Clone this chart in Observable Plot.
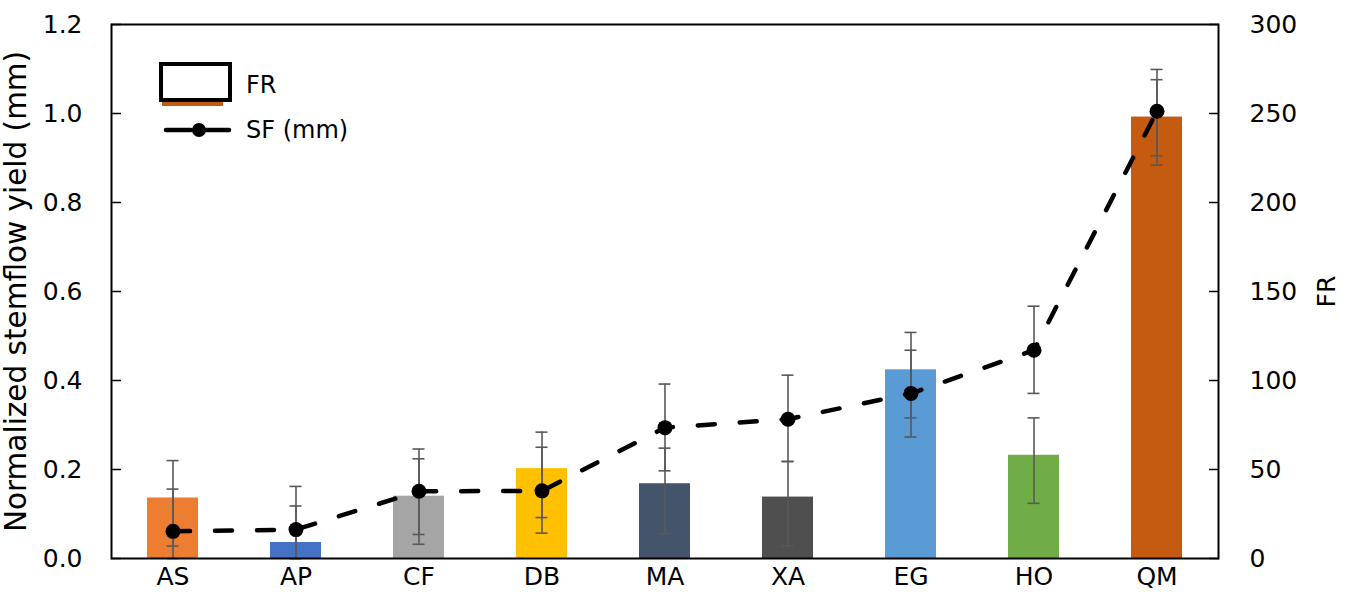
<!DOCTYPE html>
<html>
<head>
<meta charset="utf-8">
<script src="https://cdn.jsdelivr.net/npm/d3@7"></script>
<script src="https://cdn.jsdelivr.net/npm/@observablehq/plot@0.6"></script>
<style>
  body { margin: 0; background: #fff; }
  #wrap { position: relative; width: 1350px; height: 604px; font-family: "DejaVu Sans", sans-serif; }
  #legend { position: absolute; left: 159px; top: 62px; font-size: 24px; color: #000; }
  .item { display: flex; align-items: center; height: 45px; }
  .item span { margin-left: 13px; }
</style>
</head>
<body>
<div id="wrap">
  <div id="chart"></div>
  <div id="legend">
    <div class="item">
      <svg width="74" height="46"><rect x="2" y="2" width="69" height="36" fill="#fff" stroke="#000" stroke-width="4"/><rect x="3" y="40" width="61" height="4" fill="#C55A11"/></svg>
      <span>FR</span>
    </div>
    <div class="item">
      <svg width="74" height="20"><line x1="7" y1="10" x2="32" y2="10" stroke="#000" stroke-width="4.5" stroke-linecap="round"/><line x1="47" y1="10" x2="70" y2="10" stroke="#000" stroke-width="4.5" stroke-linecap="round"/><circle cx="40" cy="10" r="7" fill="#000"/></svg>
      <span>SF (mm)</span>
    </div>
  </div>
</div>
<script>
const categories = ["AS","AP","CF","DB","MA","XA","EG","HO","QM"];
const barColors = ["#ED7D31","#4472C4","#A5A5A5","#FFC000","#44546A","#4F4F4F","#5B9BD5","#70AD47","#C55A11"];
// FR (bars, right axis)
const fr     = [34, 9, 35, 50.5, 42, 34.5, 106, 58, 248];
const frLow  = [7, 0, 8, 23, 14, 7, 79, 31, 221];
const frHigh = [55, 40.5, 56, 71, 62, 54.5, 127, 79, 269];
// SF (line, left axis, mm)
const sf     = [0.061, 0.065, 0.151, 0.152, 0.294, 0.313, 0.371, 0.468, 1.005];
const sfLow  = [0, 0, 0.054, 0.057, 0.197, 0.218, 0.273, 0.371, 0.905];
const sfHigh = [0.156, 0.118, 0.246, 0.250, 0.392, 0.412, 0.468, 0.567, 1.099];
const leftTicks = [0, 0.2, 0.4, 0.6, 0.8, 1.0, 1.2];
const rightTicks = [0, 50, 100, 150, 200, 250, 300];
const frPerMm = 250; // 300 FR aligns with 1.2 mm

const rows = categories.map((c, i) => ({
  cat: c,
  fr: fr[i] / frPerMm, frLow: frLow[i] / frPerMm, frHigh: frHigh[i] / frPerMm,
  sf: sf[i], sfLow: sfLow[i], sfHigh: sfHigh[i]
}));

const errCol = "#595959";
const capInset = 19.5;
const font = "DejaVu Sans, sans-serif";

const chart = Plot.plot({
  width: 1350,
  height: 604,
  marginLeft: 111,
  marginRight: 132,
  marginTop: 24,
  marginBottom: 46,
  style: { fontFamily: font, fontSize: "25px", color: "#000", background: "#fff" },
  x: { domain: categories, paddingInner: 0.585, paddingOuter: 0.2925, label: null },
  y: { domain: [0, 1.2], label: null },
  color: { domain: categories, range: barColors },
  marks: [
    Plot.barY(rows, { x: "cat", y: "fr", fill: "cat" }),
    // error bars FR
    Plot.ruleX(rows, { x: "cat", y1: "frLow", y2: "frHigh", stroke: errCol, strokeWidth: 1.6 }),
    Plot.tickY(rows, { x: "cat", y: "frLow", stroke: errCol, strokeWidth: 1.6, insetLeft: capInset, insetRight: capInset }),
    Plot.tickY(rows, { x: "cat", y: "frHigh", stroke: errCol, strokeWidth: 1.6, insetLeft: capInset, insetRight: capInset }),
    // error bars SF
    Plot.ruleX(rows, { x: "cat", y1: "sfLow", y2: "sfHigh", stroke: errCol, strokeWidth: 1.6 }),
    Plot.tickY(rows, { x: "cat", y: "sfLow", stroke: errCol, strokeWidth: 1.6, insetLeft: capInset, insetRight: capInset }),
    Plot.tickY(rows, { x: "cat", y: "sfHigh", stroke: errCol, strokeWidth: 1.6, insetLeft: capInset, insetRight: capInset }),
    // SF line
    Plot.line(rows, { x: "cat", y: "sf", stroke: "#000", strokeWidth: 4.5, strokeDasharray: "17,25", strokeLinecap: "round" }),
    Plot.dot(rows, { x: "cat", y: "sf", r: 7.5, fill: "#000" }),
    // axes
    Plot.axisX({ tickSize: 0, tickPadding: 9, label: null, fontSize: 25 }),
    Plot.axisY({ anchor: "left", ticks: leftTicks, tickSize: 0, tickPadding: 29, tickFormat: d3.format(".1f"), label: null, fontSize: 25 }),
    Plot.axisY({ anchor: "left", ticks: leftTicks, tickSize: -10, tickFormat: () => "", label: null, strokeWidth: 1.5 }),
    Plot.axisY({ anchor: "right", ticks: rightTicks.map(v => v / frPerMm), tickSize: 0, tickPadding: 31, tickFormat: d => String(Math.round(d * frPerMm)), label: null, fontSize: 25 }),
    Plot.axisY({ anchor: "right", ticks: rightTicks.map(v => v / frPerMm), tickSize: -10, tickFormat: () => "", label: null, strokeWidth: 1.5 }),
    Plot.frame({ stroke: "#000", strokeWidth: 2 }),
    Plot.text(["Normalized stemflow yield (mm)"], { frameAnchor: "left", dx: -95, rotate: -90, textAnchor: "middle", fontSize: 29.5, fill: "#000" }),
    Plot.text(["FR"], { frameAnchor: "right", dx: 108, rotate: -90, textAnchor: "middle", fontSize: 25, fill: "#000" })
  ]
});
document.getElementById("chart").appendChild(chart);
</script>
</body>
</html>
